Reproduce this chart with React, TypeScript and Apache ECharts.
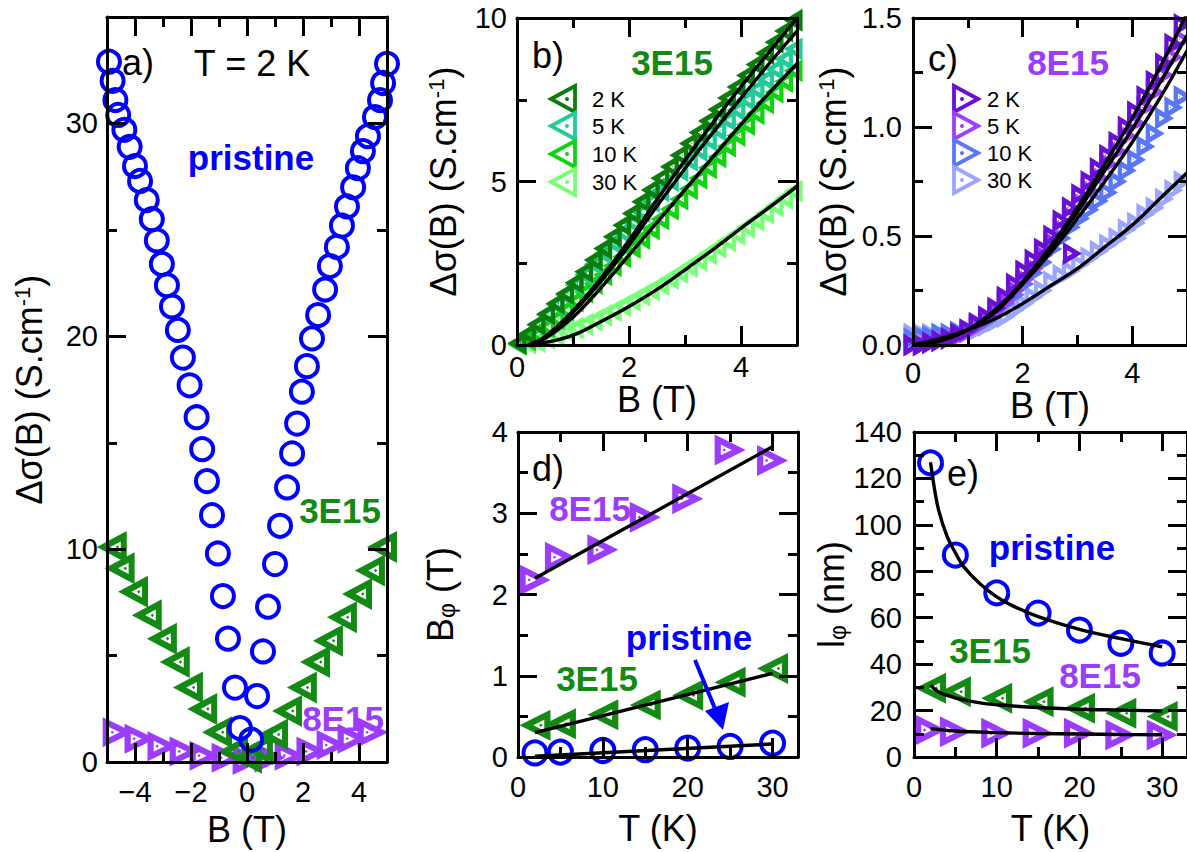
import React, { useEffect, useRef } from 'react';
import * as echarts from 'echarts';

const FONT = '"Liberation Sans", Arial, Helvetica, sans-serif';
const BLUE = '#0000ff';
const GREEN = '#138a13';
const PURPLE = '#9b3cff';

// ---------- Panel a (T = 2 K) ----------
const aPristine: number[][] = [
  [-4.93, 32.9], [-4.8, 32.0], [-4.7, 31.1], [-4.6, 30.4], [-4.38, 29.7], [-4.19, 28.9], [-4.0, 28.0],
  [-3.82, 27.3], [-3.58, 26.4], [-3.4, 25.5], [-3.22, 24.5], [-3.04, 23.4], [-2.86, 22.4], [-2.68, 21.4],
  [-2.47, 20.3], [-2.29, 19.0], [-2.05, 17.7], [-1.8, 16.2], [-1.6, 14.7], [-1.43, 13.2], [-1.25, 11.6],
  [-1.04, 9.8], [-0.86, 7.8], [-0.68, 5.8], [-0.43, 3.5], [-0.25, 1.6], [0.15, 1.05], [0.36, 3.1],
  [0.57, 5.2], [0.75, 7.3], [1.0, 9.3], [1.18, 11.1], [1.43, 12.9], [1.61, 14.5], [1.79, 15.9],
  [1.96, 17.4], [2.14, 18.6], [2.32, 19.9], [2.54, 21.0], [2.79, 22.2], [2.96, 23.3], [3.21, 24.2],
  [3.39, 25.2], [3.57, 26.1], [3.79, 27.0], [3.96, 27.9], [4.14, 28.7], [4.32, 29.4], [4.57, 30.3],
  [4.75, 31.1], [4.86, 31.9], [5.0, 32.8],
];
const a3E15: number[][] = [
  [-4.83, 10.1], [-4.55, 9.1], [-4.07, 8.0], [-3.58, 6.9], [-3.04, 5.8], [-2.58, 4.7], [-2.11, 3.5],
  [-1.6, 2.5], [-1.07, 1.4], [-0.5, 0.5], [0.0, 0.2], [0.39, 0.6], [0.93, 1.3], [1.43, 2.4], [1.96, 3.5],
  [2.43, 4.7], [2.89, 5.7], [3.39, 6.8], [3.93, 7.9], [4.39, 9.0], [4.82, 10.1],
];
const a8E15: number[][] = [
  [-4.6, 1.4], [-3.82, 1.1], [-3.0, 0.75], [-2.21, 0.5], [-1.5, 0.3], [-0.71, 0.2], [0.04, 0.1],
  [0.82, 0.2], [1.54, 0.3], [2.32, 0.5], [3.04, 0.8], [3.79, 1.1], [4.5, 1.4],
];

// ---------- Panels b, c (field sweeps) ----------
const tempLabels = ['2 K', '5 K', '10 K', '30 K'];
const bField = [0.0, 0.17, 0.34, 0.51, 0.68, 0.85, 1.02, 1.19, 1.36, 1.53, 1.7, 1.87, 2.04, 2.21, 2.38,
  2.55, 2.72, 2.89, 3.06, 3.23, 3.4, 3.57, 3.74, 3.91, 4.08, 4.25, 4.42, 4.59, 4.76, 4.93];

const b2K = [0.05, 0.33, 0.63, 0.95, 1.27, 1.57, 1.9, 2.24, 2.6, 2.95, 3.31, 3.66, 4.02, 4.38, 4.74,
  5.1, 5.45, 5.8, 6.16, 6.5, 6.85, 7.2, 7.55, 7.89, 8.24, 8.58, 8.92, 9.26, 9.6, 9.93];
const b5K = [0.05, 0.32, 0.61, 0.92, 1.23, 1.53, 1.84, 2.15, 2.47, 2.79, 3.11, 3.43, 3.75, 4.07, 4.39,
  4.71, 5.02, 5.33, 5.64, 5.95, 6.26, 6.57, 6.88, 7.19, 7.5, 7.81, 8.12, 8.43, 8.74, 9.05];
const b10K = [0.02, 0.15, 0.32, 0.55, 0.8, 1.07, 1.34, 1.61, 1.88, 2.15, 2.42, 2.7, 2.98, 3.26, 3.55,
  3.85, 4.15, 4.46, 4.78, 5.1, 5.42, 5.75, 6.08, 6.41, 6.74, 7.07, 7.4, 7.73, 8.06, 8.39];
const b30K = [0.02, 0.05, 0.1, 0.2, 0.3, 0.42, 0.52, 0.63, 0.76, 0.9, 1.05, 1.2, 1.36, 1.52, 1.68,
  1.85, 2.03, 2.21, 2.4, 2.59, 2.79, 2.99, 3.19, 3.39, 3.6, 3.81, 4.03, 4.25, 4.48, 4.7];

const bFitB = [0.2, 0.5, 1, 1.5, 2, 2.5, 3, 3.5, 4, 4.5, 5];
const bFit2K = [0, 0.25, 1.05, 2.05, 3.2, 4.45, 5.65, 6.8, 7.9, 8.95, 10.0];
const bFit5K = [0, 0.25, 1.0, 1.95, 3.05, 4.25, 5.4, 6.5, 7.55, 8.6, 9.6];
const bFit10K = [0, 0.2, 0.85, 1.75, 2.75, 3.75, 4.75, 5.75, 6.75, 7.7, 8.6];
const bFit30K = [0, 0.07, 0.3, 0.72, 1.18, 1.7, 2.3, 2.92, 3.57, 4.2, 4.85];

const c2K = [0.0, 0.0, 0.01, 0.02, 0.03, 0.05, 0.07, 0.1, 0.13, 0.17, 0.22, 0.28, 0.34, 0.39, 0.44,
  0.5, 0.57, 0.63, 0.69, 0.75, 0.81, 0.87, 0.93, 1.0, 1.07, 1.14, 1.21, 1.29, 1.38, 1.47];
const c2KExtra: number[][] = [[2.91, 0.42]];
const c5K = [0.0, 0.0, 0.01, 0.02, 0.03, 0.04, 0.06, 0.09, 0.12, 0.16, 0.2, 0.25, 0.3, 0.35, 0.41,
  0.47, 0.53, 0.59, 0.65, 0.71, 0.77, 0.83, 0.89, 0.96, 1.02, 1.09, 1.16, 1.24, 1.32, 1.4];
const c10K = [0.03, 0.04, 0.04, 0.05, 0.05, 0.06, 0.07, 0.09, 0.11, 0.14, 0.19, 0.23, 0.28, 0.33, 0.38,
  0.44, 0.49, 0.54, 0.58, 0.62, 0.66, 0.7, 0.75, 0.8, 0.85, 0.91, 0.97, 1.04, 1.09, 1.14];
const c30K = [0.05, 0.05, 0.05, 0.05, 0.05, 0.06, 0.06, 0.07, 0.09, 0.11, 0.13, 0.16, 0.19, 0.22, 0.25,
  0.29, 0.32, 0.34, 0.37, 0.4, 0.43, 0.46, 0.49, 0.53, 0.56, 0.6, 0.63, 0.67, 0.71, 0.75];

const cFitB = [0, 0.5, 1, 1.5, 2, 2.5, 3, 3.5, 4, 4.5, 5];
const cFit2K = [0, 0.02, 0.07, 0.16, 0.29, 0.45, 0.63, 0.83, 1.04, 1.27, 1.52];
const cFit5K = [0, 0.02, 0.07, 0.15, 0.28, 0.44, 0.61, 0.8, 0.99, 1.2, 1.42];
const cFit10K = [0, 0.02, 0.07, 0.16, 0.28, 0.42, 0.58, 0.75, 0.93, 1.13, 1.35];
const cFit30K = [0, 0.03, 0.07, 0.12, 0.19, 0.27, 0.35, 0.45, 0.55, 0.67, 0.79];

// ---------- Panel d (B_phi vs T) ----------
const dT = [2, 5, 10, 15, 20, 25, 30];
const d8E15 = [2.18, 2.46, 2.55, 2.95, 3.18, 3.78, 3.65];
const d3E15 = [0.39, 0.41, 0.52, 0.64, 0.76, 0.92, 1.09];
const dPristine = [0.05, 0.06, 0.08, 0.09, 0.11, 0.13, 0.17];
const dFitT = [2, 30];
const dFit8E15 = [2.2, 3.82];
const dFit3E15 = [0.3, 1.03];
const dFitPristine = [0.01, 0.16];

// ---------- Panel e (l_phi vs T) ----------
const eT = [2, 5, 10, 15, 20, 25, 30];
const ePristine = [126.7, 87, 70.7, 62, 54.7, 49, 44.8];
const e3E15 = [29.6, 28.1, 25.3, 23.8, 21, 18.8, 17.4];
const e8E15 = [11.6, 10.9, 10.2, 10.2, 10.2, 9.5, 9.5];
const eFitPT = [2, 2.5, 3, 4, 5, 6, 8, 10, 12, 15, 20, 25, 30];
const eFitPristine = [127, 115, 106, 95, 88, 82, 74.5, 69, 65, 60.5, 55, 51, 47.5];
const eFit3T = [2, 3, 5, 8, 10, 15, 20, 25, 30];
const eFit3E15 = [31, 28, 25.5, 23.3, 22.5, 21.3, 20.6, 20.2, 19.8];
const eFit8T = [2, 5, 10, 15, 20, 25, 30];
const eFit8E15 = [12.2, 11.2, 10.5, 10.1, 9.9, 9.7, 9.6];

// ---------- symbols (open triangle with a centre dot) ----------
const LEFT_TRI = 'path://M0,10L20,0L20,20Z M8.94,10L16,13.53L16,6.47Z M13.8,8.9L14.9,10L13.8,11.1L12.7,10Z';
const RIGHT_TRI = 'path://M20,10L0,0L0,20Z M11.06,10L4,13.53L4,6.47Z M6.2,8.9L5.1,10L6.2,11.1L7.3,10Z';
const LEFT_TRI_T = 'path://M0,10L20,0L20,20Z M10.06,10L15.5,12.72L15.5,7.28Z M13.6,9.3L14.3,10L13.6,10.7L12.9,10Z';
const RIGHT_TRI_T = 'path://M20,10L0,0L0,20Z M9.94,10L4.5,12.72L4.5,7.28Z M6.4,9.3L5.7,10L6.4,10.7L7.1,10Z';

const pairs = (xs: number[], ys: number[]) => xs.map((x, i) => [x, ys[i]]);

const nameStyle = {
  fontSize: 36,
  fontFamily: FONT,
  color: '#000',
  rich: {
    sup: { fontSize: 22, verticalAlign: 'top', fontFamily: FONT, color: '#000' },
    sub: { fontSize: 23, verticalAlign: 'bottom', fontFamily: FONT, color: '#000' },
  },
};

type AxSpec = {
  grid: number; min: number; max: number; majors: number[]; minor: number;
  fmt?: (v: number) => string; name?: string; nameGap?: number; labelMargin?: number;
};

function makeAxes(dim: 'x' | 'y', s: AxSpec) {
  const pos = dim === 'x' ? ['bottom', 'top'] : ['left', 'right'];
  const out: any[] = [];
  pos.forEach((p, k) => {
    const main = k === 0;
    out.push({
      type: 'value', gridIndex: s.grid, position: p, min: s.min, max: s.max,
      axisLine: { show: true, onZero: false, lineStyle: { color: '#000', width: 3 } },
      axisTick: { show: true, inside: true, length: 19, customValues: s.majors, lineStyle: { color: '#000', width: 3 } },
      axisLabel: main
        ? {
            show: true, customValues: s.majors, margin: s.labelMargin ?? 10,
            formatter: (v: number) => (s.fmt ? s.fmt(v) : String(v)),
            fontSize: 29, color: '#000', fontFamily: FONT,
          }
        : { show: false },
      splitLine: { show: false },
      name: main ? s.name : '',
      nameLocation: 'middle',
      nameGap: s.nameGap ?? 40,
      nameRotate: dim === 'y' ? 90 : 0,
      nameTextStyle: nameStyle,
      z: 5,
    });
    out.push({
      type: 'value', gridIndex: s.grid, position: p, min: s.min, max: s.max, interval: s.minor,
      axisLine: { show: false, onZero: false },
      axisTick: { show: true, inside: true, length: 10, lineStyle: { color: '#000', width: 3 } },
      axisLabel: { show: false },
      splitLine: { show: false },
      z: 5,
    });
  });
  return out;
}

const minus = (v: number) => String(v).replace('-', '\u2212');

function buildOption() {
  const grids = [
    { left: 107, top: 17, width: 280, height: 751 },
    { left: 517, top: 18, width: 280, height: 327 },
    { left: 913, top: 18, width: 281, height: 327 },
    { left: 518, top: 432, width: 280, height: 325 },
    { left: 914, top: 432, width: 281, height: 325 },
  ];
  const xAxes: any[] = [];
  const yAxes: any[] = [];
  const addX = (s: AxSpec) => { const i = xAxes.length; xAxes.push(...makeAxes('x', s)); return i; };
  const addY = (s: AxSpec) => { const i = yAxes.length; yAxes.push(...makeAxes('y', s)); return i; };

  const sigName = '\u0394\u03c3(B) (S.cm{sup|-1})';
  const ax = [
    { x: addX({ grid: 0, min: -5, max: 5, majors: [-4, -2, 0, 2, 4], minor: 1, fmt: minus, name: 'B (T)', nameGap: 45, labelMargin: 15 }),
      y: addY({ grid: 0, min: 0, max: 35, majors: [0, 10, 20, 30], minor: 5, name: sigName, nameGap: 60, labelMargin: 9 }) },
    { x: addX({ grid: 1, min: 0, max: 5, majors: [0, 2, 4], minor: 1, name: 'B (T)', nameGap: 36, labelMargin: 7 }),
      y: addY({ grid: 1, min: 0, max: 10, majors: [0, 5, 10], minor: 2.5, name: sigName, nameGap: 56, labelMargin: 10 }) },
    { x: addX({ grid: 2, min: 0, max: 5, majors: [0, 2, 4], minor: 1, name: 'B (T)', nameGap: 36, labelMargin: 13 }),
      y: addY({ grid: 2, min: 0, max: 1.5, majors: [0, 0.5, 1, 1.5], minor: 0.25, fmt: (v) => v.toFixed(1), name: sigName, nameGap: 62, labelMargin: 11 }) },
    { x: addX({ grid: 3, min: 0, max: 33, majors: [0, 10, 20, 30], minor: 5, name: 'T (K)', nameGap: 53, labelMargin: 15 }),
      y: addY({ grid: 3, min: 0, max: 4, majors: [0, 1, 2, 3, 4], minor: 0.5, name: 'B{sub|\u03c6} (T)', nameGap: 60, labelMargin: 10 }) },
    { x: addX({ grid: 4, min: 0, max: 33, majors: [0, 10, 20, 30], minor: 5, name: 'T (K)', nameGap: 53, labelMargin: 15 }),
      y: addY({ grid: 4, min: 0, max: 140, majors: [0, 20, 40, 60, 80, 100, 120, 140], minor: 10, name: 'l{sub|\u03c6} (nm)', nameGap: 64, labelMargin: 12 }) },
  ];

  const series: any[] = [];
  const circles = (p: number, name: string, data: number[][], size: number, bw: number) =>
    series.push({
      type: 'scatter', name, xAxisIndex: ax[p].x, yAxisIndex: ax[p].y, data,
      symbol: 'circle', symbolSize: size,
      itemStyle: { color: 'rgba(0,0,0,0)', borderColor: BLUE, borderWidth: bw, opacity: 1 },
      z: 2,
    });
  const tris = (p: number, name: string, data: number[][], sym: string, size: number[], color: string, z = 2) =>
    series.push({
      type: 'scatter', name, xAxisIndex: ax[p].x, yAxisIndex: ax[p].y, data,
      symbol: sym, symbolSize: size, symbolKeepAspect: false, itemStyle: { color, opacity: 1 }, z,
    });
  const fit = (p: number, name: string, data: number[][]) =>
    series.push({
      type: 'line', name, xAxisIndex: ax[p].x, yAxisIndex: ax[p].y, data, smooth: 0.4,
      showSymbol: false, symbol: 'none', lineStyle: { color: '#000', width: 3.4 }, z: 4,
    });

  // a
  tris(0, '8E15 a', a8E15, RIGHT_TRI, [31, 30], PURPLE);
  tris(0, '3E15 a', a3E15, LEFT_TRI, [30, 32], GREEN);
  circles(0, 'pristine a', aPristine, 22, 4);

  // b
  const bCols = ['#0a7d0a', '#22cc99', '#11d411', '#77ff77'];
  const bVals = [b2K, b5K, b10K, b30K];
  [3, 2, 1, 0].forEach((i) => tris(1, 'b ' + tempLabels[i], pairs(bField, bVals[i]), LEFT_TRI_T, [19, 23], bCols[i], 2 + (3 - i) * 0.1));
  fit(1, 'b fit 30K', pairs(bFitB, bFit30K));
  fit(1, 'b fit 10K', pairs(bFitB, bFit10K));
  fit(1, 'b fit 5K', pairs(bFitB, bFit5K));
  fit(1, 'b fit 2K', pairs(bFitB, bFit2K));

  // c
  const cCols = ['#6a0fd6', '#a040ff', '#5a78f5', '#9aa6ff'];
  const cVals = [c2K, c5K, c10K, c30K];
  [3, 2, 1, 0].forEach((i) => {
    const d = pairs(bField, cVals[i]);
    if (i === 0) d.push(...c2KExtra);
    tris(2, 'c ' + tempLabels[i], d, RIGHT_TRI_T, [19, 23], cCols[i], 2 + (3 - i) * 0.1);
  });
  fit(2, 'c fit 30K', pairs(cFitB, cFit30K));
  fit(2, 'c fit 10K', pairs(cFitB, cFit10K));
  fit(2, 'c fit 5K', pairs(cFitB, cFit5K));
  fit(2, 'c fit 2K', pairs(cFitB, cFit2K));

  // d
  tris(3, '8E15 d', pairs(dT, d8E15), RIGHT_TRI, [31, 31], PURPLE);
  tris(3, '3E15 d', pairs(dT, d3E15), LEFT_TRI, [31, 31], GREEN);
  circles(3, 'pristine d', pairs(dT, dPristine), 23, 4);
  fit(3, 'd fit 8E15', pairs(dFitT, dFit8E15));
  fit(3, 'd fit 3E15', pairs(dFitT, dFit3E15));
  fit(3, 'd fit pristine', pairs(dFitT, dFitPristine));

  // e
  tris(4, '8E15 e', pairs(eT, e8E15), RIGHT_TRI, [31, 31], PURPLE);
  tris(4, '3E15 e', pairs(eT, e3E15), LEFT_TRI, [31, 31], GREEN);
  circles(4, 'pristine e', pairs(eT, ePristine), 23, 4);
  fit(4, 'e fit pristine', pairs(eFitPT, eFitPristine));
  fit(4, 'e fit 3E15', pairs(eFit3T, eFit3E15));
  fit(4, 'e fit 8E15', pairs(eFit8T, eFit8E15));

  // graphic annotations
  const txt = (x: number, y: number, text: string, fill: string, size: number, bold = false, align = 'center') => ({
    type: 'text', x, y, z: 100,
    style: { text, fill, fontSize: size, fontWeight: bold ? 'bold' : 'normal', fontFamily: FONT, align, verticalAlign: 'middle' },
  });
  const legendItem = (cx: number, cy: number, color: string, dir: 'L' | 'R') => {
    const w = 24, h = 26;
    const pts = dir === 'L'
      ? [[cx - w / 2, cy], [cx + w / 2, cy - h / 2], [cx + w / 2, cy + h / 2]]
      : [[cx + w / 2, cy], [cx - w / 2, cy - h / 2], [cx - w / 2, cy + h / 2]];
    const dotX = dir === 'L' ? cx + w / 6 : cx - w / 6;
    return [
      { type: 'polygon', z: 100, shape: { points: pts }, style: { fill: 'none', stroke: color, lineWidth: 3.8, lineJoin: 'miter' } },
      { type: 'circle', z: 100, shape: { cx: dotX, cy, r: 2 }, style: { fill: color } },
    ];
  };
  const bRows = [99, 126, 154, 182];
  const cRows = [99, 126, 153, 180];
  const graphic: any[] = [
    txt(138, 62, 'a)', '#000', 36),
    txt(252, 63, 'T = 2 K', '#000', 36),
    txt(251, 157, 'pristine', BLUE, 35, true),
    txt(340, 510, '3E15', GREEN, 35, true),
    txt(343, 718, '8E15', PURPLE, 35, true),
    txt(548, 55, 'b)', '#000', 36),
    txt(672, 62, '3E15', GREEN, 35, true),
    txt(943, 58, 'c)', '#000', 36),
    txt(1068, 62, '8E15', PURPLE, 35, true),
    txt(548, 468, 'd)', '#000', 36),
    txt(590, 508, '8E15', PURPLE, 35, true),
    txt(597, 678, '3E15', GREEN, 35, true),
    txt(689, 637, 'pristine', BLUE, 35, true),
    txt(963, 473, 'e)', '#000', 36),
    txt(1052, 547, 'pristine', BLUE, 35, true),
    txt(990, 650, '3E15', GREEN, 35, true),
    txt(1100, 675, '8E15', PURPLE, 35, true),
    { type: 'line', z: 100, shape: { x1: 695, y1: 660, x2: 718, y2: 716 }, style: { stroke: BLUE, lineWidth: 4 } },
    { type: 'polygon', z: 100, shape: { points: [[723, 730], [705, 711], [729, 702]] }, style: { fill: BLUE } },
  ];
  tempLabels.forEach((t, i) => {
    graphic.push(...legendItem(563, bRows[i], bCols[i], 'L'));
    graphic.push(txt(592, bRows[i], t, '#000', 22, false, 'left'));
    graphic.push(...legendItem(966, cRows[i], cCols[i], 'R'));
    graphic.push(txt(987, cRows[i], t, '#000', 22, false, 'left'));
  });

  return {
    animation: false,
    backgroundColor: '#fff',
    grid: grids,
    xAxis: xAxes,
    yAxis: yAxes,
    series,
    graphic,
  };
}

export default function App() {
  const ref = useRef<HTMLDivElement>(null);
  useEffect(() => {
    if (!ref.current) return;
    const chart = echarts.init(ref.current, undefined, { renderer: 'svg' });
    chart.setOption(buildOption() as any);
    return () => chart.dispose();
  }, []);
  return (
    <div
      ref={ref}
      style={{ position: 'absolute', left: 0, top: 0, width: 1187, height: 852, overflow: 'hidden' }}
    />
  );
}
